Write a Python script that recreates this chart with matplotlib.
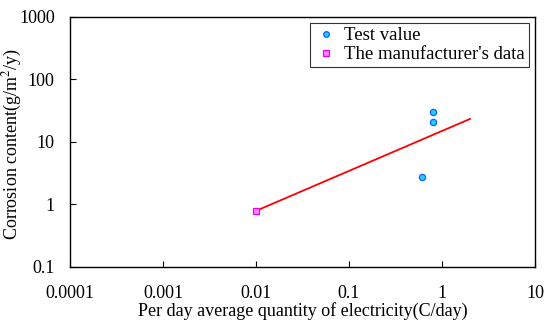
import matplotlib
matplotlib.use("Agg")
import matplotlib.pyplot as plt

plt.rcParams['font.family'] = ['Liberation Serif', 'DejaVu Serif']
plt.rcParams['mathtext.fontset'] = 'stix'

# data
test_x = [0.80, 0.80, 0.61]
test_y = [30.0, 21.0, 2.75]
maker_x = [0.01]
maker_y = [0.79]
fit_x = [0.01, 2.0]
fit_y = [0.79, 23.3]

xticks = [0.0001, 0.001, 0.01, 0.1, 1, 10]
xticklabels = ['0.0001', '0.001', '0.01', '0.1', '1', '10']
yticks = [0.1, 1, 10, 100, 1000]
yticklabels = ['0.1', '1', '10', '100', '1000']

fig = plt.figure(figsize=(5.47, 3.24), dpi=100)
ax = fig.add_axes([0.128, 0.176, 0.850, 0.772])

ax.plot(fit_x, fit_y, color='red', lw=1.3, zorder=2)
ax.plot(test_x, test_y, 'o', ls='none', ms=4.5, mfc='#22ccff', mec='#1060ff',
        mew=0.9, label='Test value', zorder=3)
ax.plot(maker_x, maker_y, 's', ls='none', ms=4.5, mfc='#ff88ff', mec='#ee00ee',
        mew=0.9, label="The manufacturer's data", zorder=3)

ax.set_xscale('log')
ax.set_yscale('log')
ax.set_xlim(0.0001, 10)
ax.set_ylim(0.1, 1000)
ax.set_xticks(xticks)
ax.set_xticklabels(xticklabels)
ax.set_yticks(yticks)
ax.set_yticklabels(yticklabels)
ax.minorticks_off()
ax.tick_params(direction='in', length=4, width=0.8, labelsize=13)
ax.tick_params(axis='x', pad=13)
ax.tick_params(axis='y', pad=11)
for s in ax.spines.values():
    s.set_linewidth(1.0)

ax.set_xlabel('Per day average quantity of electricity(C/day)', fontsize=13, labelpad=0)
ax.set_ylabel('Corrosion content(g/m$^{2}$/y)', fontsize=13)
ax.yaxis.set_label_coords(-0.10, 0.49)

leg = ax.legend(loc='upper right', bbox_to_anchor=(0.987, 0.975), fontsize=13.5,
                frameon=True, fancybox=False, edgecolor='black', handlelength=1.3,
                handletextpad=0.3, borderpad=0.22, labelspacing=0.1, markerscale=0.9,
                borderaxespad=0)
leg.get_frame().set_linewidth(0.8)

fig.savefig('out.png', dpi=100)
